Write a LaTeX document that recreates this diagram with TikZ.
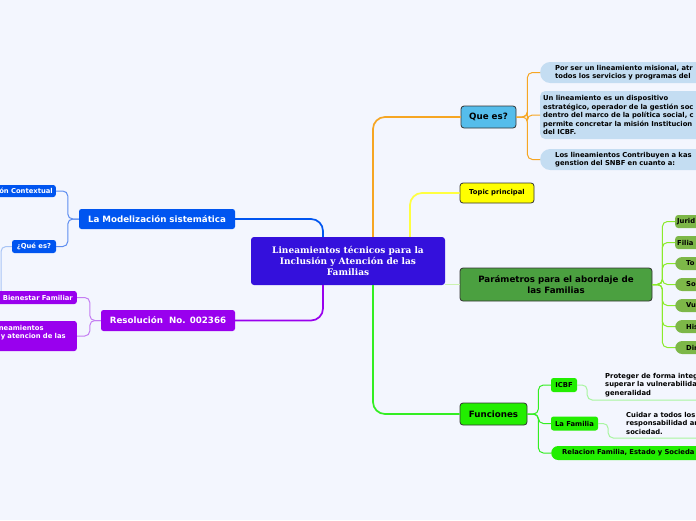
\documentclass[tikz,border=0pt]{standalone}
\usepackage{fontspec}
\setsansfont{DejaVu Sans}
\newfontfamily\raizfont{DejaVu Serif}
\definecolor{fondo}{HTML}{F3F6FE}
\definecolor{raiz}{HTML}{3410DC}
\definecolor{naranja}{HTML}{F6A623}
\definecolor{amarilloL}{HTML}{FFFF40}
\definecolor{amarillo}{HTML}{FFFF00}
\definecolor{celeste}{HTML}{55BDEB}
\definecolor{nube}{HTML}{C4DDF2}
\definecolor{verdeosc}{HTML}{4BA040}
\definecolor{verdeP}{HTML}{CCF2B0}
\definecolor{lima}{HTML}{8BEA2C}
\definecolor{hojaP}{HTML}{7DB748}
\definecolor{verde}{HTML}{22EE00}
\definecolor{verdeL}{HTML}{33EE22}
\definecolor{verdeT}{HTML}{A8F5A0}
\definecolor{azul}{HTML}{0055F0}
\definecolor{azulL}{HTML}{5E8EF0}
\definecolor{azulT}{HTML}{A8C4F5}
\definecolor{morado}{HTML}{9900EE}
\definecolor{moradoL}{HTML}{C47EF2}
\definecolor{borde}{HTML}{333333}
\newcommand\chico{\sffamily\bfseries\fontsize{6.8}{8.5}\selectfont}
\newcommand\grande{\sffamily\bfseries\fontsize{8.7}{10.5}\selectfont}
\tikzset{
  raizbox/.style={fill=raiz, rounded corners=3pt, text=white, align=center,
    font=\raizfont\bfseries\fontsize{9}{10.6}\selectfont,
    minimum width=194pt, minimum height=48pt, inner sep=0pt},
  caja/.style={draw=borde, line width=0.8pt, rounded corners=3pt, font=\grande,
    inner sep=0pt},
  caja2/.style={rounded corners=2.5pt, text=white, font=\grande, inner sep=0pt},
  nubebox/.style={fill=nube, anchor=west, align=left, font=\chico, inner ysep=0pt},
  hojabox/.style={fill=hojaP, anchor=west, align=left, font=\chico, text width=50pt,
    minimum height=13pt, inner ysep=0pt},
  hojaF/.style={fill=verde, rounded corners=2.5pt, font=\chico, inner sep=0pt,
    minimum height=14pt},
  textobox/.style={anchor=west, align=left, font=\chico, inner sep=0pt},
  grueso/.style={line width=1.7pt, rounded corners=12pt},
  fino/.style={line width=1pt, rounded corners=5pt},
}
\begin{document}
\begin{tikzpicture}[x=1pt,y=-1pt]
\useasboundingbox (0,0) rectangle (696,520);
\fill[fondo] (0,0) rectangle (696,520);
\clip (0,0) rectangle (696,520);

% nodo central
\node[raizbox] (raiz) at (348,261) {Lineamientos técnicos para la\\Inclusión y Atención de las\\Familias};

% ramas de la derecha
\node[caja, fill=celeste, minimum width=55pt, minimum height=22pt] (quees) at (488.5,117) {Que es?};
\node[caja, fill=amarillo, font=\chico, minimum width=74pt, minimum height=20pt] (topic) at (497,193) {Topic principal};
\node[caja, fill=verdeosc, align=center, minimum width=192pt, minimum height=33pt] (param) at (556,284.5) {Parámetros para el abordaje de\\las Familias};
\node[caja, fill=verde, minimum width=67pt, minimum height=22pt] (func) at (493.5,414) {Funciones};

\draw[grueso, naranja] ([xshift=25pt]raiz.north) |- (quees.west);
\draw[grueso, amarilloL] ([xshift=62pt]raiz.north) |- (topic.west);
\draw[line width=1.2pt, verdeP] (param.west -| raiz.east) -- (param.west);
\draw[grueso, verdeL] ([xshift=25pt]raiz.south) |- (func.west);

% Que es?
\node[nubebox, rounded corners=10pt, minimum height=21pt, text width=180pt, inner xsep=15pt] (q1) at (540,72.5) {Por ser un lineamiento misional, atr\\todos los servicios y programas del};
\node[nubebox, rounded corners=5pt, minimum height=48pt, text width=200pt, inner xsep=3pt] (q2) at (540,115) {Un lineamiento es un dispositivo\\estratégico, operador de la gestión soc\\dentro del marco de la política social, c\\permite concretar la misión Institucion\\del ICBF.};
\node[nubebox, rounded corners=10pt, minimum height=21pt, text width=180pt, inner xsep=15pt] (q3) at (540,159.5) {Los lineamientos Contribuyen a kas\\genstion del SNBF en cuanto a:};
\foreach \q in {q1,q2,q3}
  \draw[fino, naranja] (quees.east) -- +(11,0) |- (\q.west);

% Parametros
\foreach \nom/\sep/\rad [count=\i] in {Jurid/2/3, Filia/2/3, To/11/7, So/11/7, Vu/11/7, His/11/7, Din/11/7}{
  \node[hojabox, inner xsep=\sep pt, rounded corners=\rad pt] (p\i) at (675,200.5+21*\i) {\nom};
  \draw[fino, lima] (param.east) -- +(10,0) |- (p\i.west);
}

% Funciones
\node[hojaF, minimum width=26pt] (icbf) at (564,385) {ICBF};
\node[hojaF, minimum width=47pt] (fam) at (574.5,423.5) {La Familia};
\node[hojaF, anchor=west, rounded corners=7pt, text width=180pt, align=left, inner xsep=11pt] (rel) at (551,453) {Relacion Familia, Estado y Socieda};
\foreach \f in {icbf,fam,rel}
  \draw[fino, verdeL] (func.east) -- +(11,0) |- (\f.west);

\node[textobox] (prot) at (605,385) {Proteger de forma integ\\superar la vulnerabilida\\generalidad};
\node[textobox] (cuid) at (626,423) {Cuidar a todos los\\responsabilidad ar\\sociedad.};
\coordinate (protfin) at (720,400);
\coordinate (cuidfin) at (720,438);
\draw[fino, verdeT] (icbf.east) -- +(10,0) |- (protfin);
\draw[fino, verdeT] (fam.east) -- +(10,0) |- (cuidfin);

% ramas de la izquierda
\node[caja2, fill=azul, minimum width=156pt, minimum height=20pt] (model) at (157,219) {La Modelización sistemática};
\node[caja2, fill=morado, minimum width=134pt, minimum height=21pt] (resol) at (168,320.5) {Resolución\ \ No. 002366};
\draw[grueso, azul] ([xshift=-25pt]raiz.north) |- (model.east);
\draw[grueso, morado] ([xshift=-25pt]raiz.south) |- (resol.east);

\node[caja2, fill=azul, font=\chico, anchor=east, text width=62pt, align=right, minimum height=12pt, inner xsep=3pt] (ctx) at (56,191) {ón Contextual};
\node[caja2, fill=azul, font=\chico, minimum width=44pt, minimum height=13pt] (quees2) at (34,246.5) {¿Qué es?};
\coordinate (quefin) at (1,300);
\draw[fino, azulL] (model.west) -- +(-11,0) |- (ctx.east);
\draw[fino, azulL] (model.west) -- +(-11,0) |- (quees2.east);
\draw[fino, azulT] (quees2.west) -| (quefin);

\node[caja2, fill=morado, font=\chico, anchor=east, text width=80pt, align=right, minimum height=13pt, inner xsep=4pt] (bien) at (77,297.5) {Bienestar Familiar};
\node[caja2, fill=morado, font=\chico, anchor=east, text width=95pt, align=left, minimum height=30pt, inner xsep=5pt] (linea) at (77,336) {\hspace*{22pt}neamientos\\\hspace*{24pt}y atencion de las\\\mbox{}};
\draw[fino, moradoL] (resol.west) -- +(-11,0) |- (bien.east);
\draw[fino, moradoL] (resol.west) -- +(-11,0) |- (linea.east);
\end{tikzpicture}
\end{document}
